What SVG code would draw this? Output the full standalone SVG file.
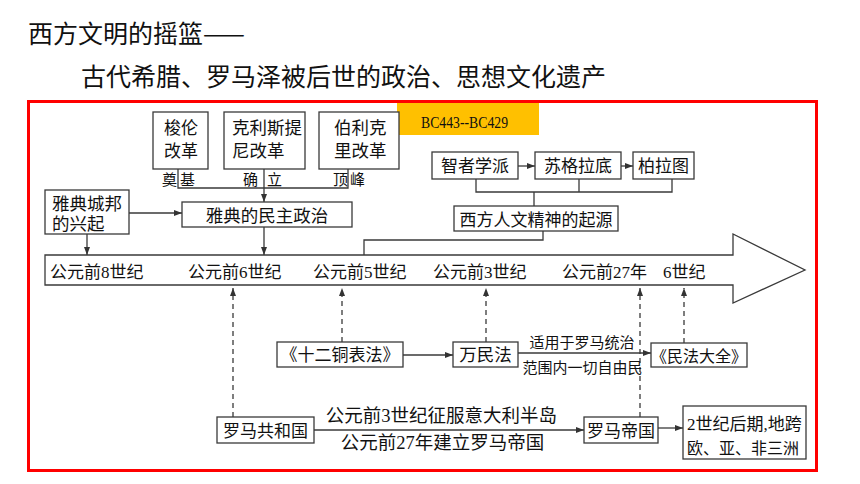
<svg xmlns="http://www.w3.org/2000/svg" width="860" height="484" viewBox="0 0 860 484">
<defs>
<marker id="ah" markerWidth="8" markerHeight="6" refX="8" refY="3" orient="auto" markerUnits="userSpaceOnUse"><path d="M0,0 L8,3 L0,6 z" fill="#333"/></marker>
</defs>
<style>
.box{fill:#fff;stroke:#3a3a3a;stroke-width:1.3}
.t{font-family:"Liberation Serif","Noto Sans CJK SC",serif;fill:#111;font-size:17px}
.m{text-anchor:middle}
.c{stroke:#3a3a3a;stroke-width:1.3;fill:none}
.d{stroke-dasharray:5 4}
.title{font-family:"Noto Sans CJK SC","Noto Sans",sans-serif;font-size:25px;fill:#111}
</style>
<rect x="0" y="0" width="860" height="484" fill="#fff"/>
<g id="title">
<text class="title" x="28" y="42.5">西方文明的摇篮——</text>
<text class="title" x="81" y="86">古代希腊、罗马泽被后世的政治、思想文化遗产</text>
</g>
<rect x="28.5" y="101.5" width="788" height="369" fill="none" stroke="#f00" stroke-width="3"/>
<g id="bc-label">
<rect x="397" y="103" width="142" height="32" fill="#FFC000"/>
<text x="421" y="128" textLength="87" lengthAdjust="spacingAndGlyphs" style="font-family:'Liberation Serif',serif;font-size:16px;fill:#111">BC443--BC429</text>
</g>
<g id="timeline">
<path class="box" d="M45,255 H733 V234 L805,270 L733,303 V285 H45 Z"/>
<text class="t" x="50" y="277.5">公元前8世纪</text>
<text class="t" x="188" y="277.5">公元前6世纪</text>
<text class="t" x="313" y="277.5">公元前5世纪</text>
<text class="t" x="433" y="277.5">公元前3世纪</text>
<text class="t" x="562" y="277.5">公元前27年</text>
<text class="t" x="663" y="277.5">6世纪</text>
</g>
<g id="connectors">
<path class="c" d="M178,169 V188 H348 V169"/>
<path class="c" d="M264,169 V202" marker-end="url(#ah)"/>
<path class="c" d="M129,213 H182" marker-end="url(#ah)"/>
<path class="c" d="M87,234 V255" marker-end="url(#ah)"/>
<path class="c" d="M264,227 V255" marker-end="url(#ah)"/>
<path class="c" d="M518,166 H535" marker-end="url(#ah)"/>
<path class="c" d="M621,166 H633" marker-end="url(#ah)"/>
<path class="c" d="M476,179 V192 H672 V179 M579,179 V192 M534,192 V206"/>
<path class="c" d="M543,231 V240 H364 V255"/>
<path class="c d" d="M233,417 V288" marker-end="url(#ah)"/>
<path class="c d" d="M342,342 V288" marker-end="url(#ah)"/>
<path class="c d" d="M486,342 V288" marker-end="url(#ah)"/>
<path class="c d" d="M640,417 V288" marker-end="url(#ah)"/>
<path class="c d" d="M684,343 V288" marker-end="url(#ah)"/>
<path class="c" d="M403,355 H453" marker-end="url(#ah)"/>
<path class="c" d="M518,353 H651" marker-end="url(#ah)"/>
<path class="c" d="M314,430 H584" marker-end="url(#ah)"/>
<path class="c" d="M658,428 H683" marker-end="url(#ah)"/>
<text class="t" x="162" y="184.5" style="font-size:15px;letter-spacing:3px">奠基</text>
<text class="t" x="243" y="184.5" style="font-size:15px;letter-spacing:9px">确立</text>
<text class="t" x="333" y="184.5" style="font-size:15px;letter-spacing:2px">顶峰</text>
<text class="t m" x="582" y="347.5" style="font-size:15px">适用于罗马统治</text>
<text class="t m" x="582.5" y="372.5" style="font-size:15px">范围内一切自由民</text>
<text class="t m" x="441.5" y="422" style="font-size:18.5px">公元前3世纪征服意大利半岛</text>
<text class="t m" x="442.5" y="449" style="font-size:18.5px">公元前27年建立罗马帝国</text>
</g>
<g id="solon">
<rect class="box" x="153" y="112" width="55" height="57"/>
<text class="t m" x="181" y="134">梭伦</text>
<text class="t m" x="181" y="157">改革</text>
</g>
<g id="cleisthenes">
<rect class="box" x="224" y="112" width="81" height="57"/>
<text class="t" x="232" y="134" style="font-size:17.5px">克利斯提</text>
<text class="t" x="232" y="157" style="font-size:17.5px">尼改革</text>
</g>
<g id="pericles">
<rect class="box" x="319" y="112" width="80" height="57"/>
<text class="t" x="334" y="134" style="font-size:17.5px">伯利克</text>
<text class="t" x="334" y="157" style="font-size:17.5px">里改革</text>
</g>
<g id="athens-rise">
<rect class="box" x="45" y="190" width="84" height="44"/>
<text class="t" x="52" y="209.5" style="font-size:17.5px">雅典城邦</text>
<text class="t" x="52" y="229.5" style="font-size:17.5px">的兴起</text>
</g>
<g id="athens-democracy">
<rect class="box" x="182" y="202" width="170" height="25"/>
<text class="t m" x="267" y="221.5" style="font-size:17.5px">雅典的民主政治</text>
</g>
<g id="sophists">
<rect class="box" x="432" y="152" width="86" height="27"/>
<text class="t m" x="475" y="172">智者学派</text>
</g>
<g id="socrates">
<rect class="box" x="535" y="152" width="86" height="27"/>
<text class="t m" x="578" y="172">苏格拉底</text>
</g>
<g id="plato">
<rect class="box" x="633" y="152" width="61" height="27"/>
<text class="t m" x="663.5" y="172">柏拉图</text>
</g>
<g id="humanism">
<rect class="box" x="454" y="206" width="164" height="25"/>
<text class="t m" x="536" y="225.5">西方人文精神的起源</text>
</g>
<g id="twelve-tables">
<rect class="box" x="277" y="342" width="126" height="25"/>
<text class="t m" x="340" y="361">《十二铜表法》</text>
</g>
<g id="jus-gentium">
<rect class="box" x="453" y="342" width="65" height="25"/>
<text class="t m" x="485.5" y="361" style="font-size:17.5px">万民法</text>
</g>
<g id="corpus">
<rect class="box" x="651" y="343" width="96" height="24"/>
<text class="t m" x="699" y="361.5" style="font-size:16px">《民法大全》</text>
</g>
<g id="republic">
<rect class="box" x="217" y="417" width="97" height="26"/>
<text class="t m" x="265.5" y="436.5">罗马共和国</text>
</g>
<g id="empire">
<rect class="box" x="584" y="417" width="74" height="26"/>
<text class="t m" x="621" y="436.5">罗马帝国</text>
</g>
<g id="extent">
<rect class="box" x="683" y="406" width="123" height="53"/>
<text class="t" x="687" y="429.5">2世纪后期,地跨</text>
<text class="t" x="687" y="453.5" style="font-size:16px">欧、亚、非三洲</text>
</g>
</svg>
